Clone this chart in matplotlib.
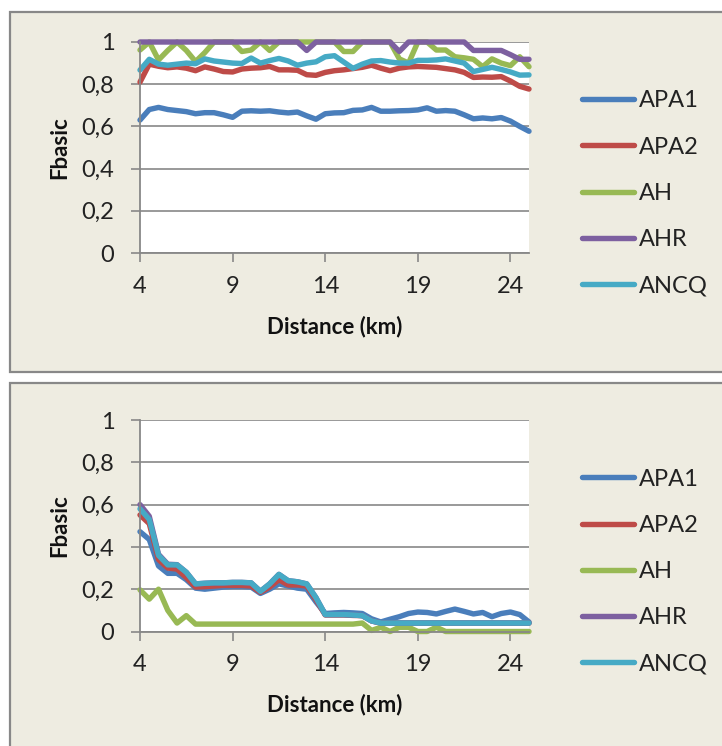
import numpy as np
import matplotlib
matplotlib.use("Agg")
import matplotlib.pyplot as plt
from matplotlib.patches import Rectangle

plt.rcParams['font.family'] = ['Lato', 'DejaVu Sans']

# ---------------- data ----------------
distance_km = [4, 4.5, 5, 5.5, 6, 6.5, 7, 7.5, 8, 8.5, 9, 9.5, 10, 10.5, 11, 11.5,
               12, 12.5, 13, 13.5, 14, 14.5, 15, 15.5, 16, 16.5, 17, 17.5, 18, 18.5,
               19, 19.5, 20, 20.5, 21, 21.5, 22, 22.5, 23, 23.5, 24, 24.5, 25]

series_names = ["APA1", "APA2", "AH", "AHR", "ANCQ"]

# top chart
top_apa1 = [0.63, 0.68, 0.69, 0.68, 0.675, 0.67, 0.66, 0.665, 0.665, 0.655, 0.643, 0.672,
            0.674, 0.672, 0.674, 0.668, 0.664, 0.668, 0.65, 0.634, 0.66, 0.664, 0.665,
            0.676, 0.678, 0.69, 0.672, 0.672, 0.674, 0.675, 0.678, 0.688, 0.672, 0.675,
            0.672, 0.655, 0.636, 0.64, 0.636, 0.642, 0.625, 0.60, 0.577]
top_apa2 = [0.81, 0.895, 0.885, 0.878, 0.882, 0.876, 0.864, 0.882, 0.872, 0.86, 0.858,
            0.872, 0.876, 0.878, 0.884, 0.868, 0.868, 0.866, 0.845, 0.842, 0.856, 0.864,
            0.868, 0.874, 0.88, 0.89, 0.876, 0.864, 0.876, 0.882, 0.884, 0.882, 0.88,
            0.874, 0.868, 0.856, 0.832, 0.834, 0.833, 0.836, 0.815, 0.79, 0.777]
top_ah = [0.962, 1.0, 0.915, 0.96, 1.0, 0.96, 0.907, 0.95, 1.0, 1.0, 1.0, 0.955, 0.962,
          1.0, 0.96, 1.0, 1.0, 1.0, 1.0, 1.0, 1.0, 1.0, 0.955, 0.955, 1.0, 1.0, 1.0,
          1.0, 0.92, 0.9, 1.0, 1.0, 0.962, 0.962, 0.93, 0.925, 0.918, 0.883, 0.92, 0.9,
          0.888, 0.93, 0.883]
top_ahr = [1.0, 1.0, 1.0, 1.0, 1.0, 1.0, 1.0, 1.0, 1.0, 1.0, 1.0, 1.0, 1.0, 1.0, 1.0,
           1.0, 1.0, 1.0, 0.96, 1.0, 1.0, 1.0, 1.0, 1.0, 1.0, 1.0, 1.0, 1.0, 0.955, 1.0,
           1.0, 1.0, 1.0, 1.0, 1.0, 1.0, 0.96, 0.96, 0.96, 0.96, 0.94, 0.918, 0.918]
top_ancq = [0.867, 0.918, 0.895, 0.89, 0.895, 0.90, 0.897, 0.92, 0.91, 0.905, 0.90,
            0.898, 0.924, 0.90, 0.912, 0.922, 0.91, 0.89, 0.90, 0.906, 0.93, 0.935,
            0.905, 0.875, 0.895, 0.91, 0.912, 0.905, 0.90, 0.90, 0.913, 0.913, 0.915,
            0.92, 0.91, 0.90, 0.86, 0.87, 0.88, 0.87, 0.858, 0.843, 0.844]

# bottom chart
bot_apa1 = [0.472, 0.435, 0.31, 0.275, 0.275, 0.245, 0.205, 0.20, 0.205, 0.21, 0.212,
            0.212, 0.21, 0.18, 0.20, 0.225, 0.215, 0.205, 0.20, 0.14, 0.085, 0.088, 0.09,
            0.088, 0.085, 0.06, 0.045, 0.058, 0.07, 0.085, 0.092, 0.09, 0.083, 0.095,
            0.106, 0.095, 0.083, 0.09, 0.07, 0.085, 0.092, 0.08, 0.045]
bot_apa2 = [0.551, 0.51, 0.34, 0.30, 0.295, 0.255, 0.21, 0.212, 0.215, 0.218, 0.218,
            0.218, 0.215, 0.185, 0.21, 0.245, 0.22, 0.22, 0.215, 0.15, 0.078, 0.078,
            0.078, 0.076, 0.075, 0.05, 0.04, 0.04, 0.04, 0.04, 0.04, 0.04, 0.04, 0.04,
            0.04, 0.04, 0.04, 0.04, 0.04, 0.04, 0.04, 0.04, 0.04]
bot_ah = [0.197, 0.153, 0.20, 0.10, 0.04, 0.075, 0.035, 0.035, 0.035, 0.035, 0.035,
          0.035, 0.035, 0.035, 0.035, 0.035, 0.035, 0.035, 0.035, 0.035, 0.035, 0.035,
          0.035, 0.035, 0.04, 0.005, 0.02, 0.0, 0.02, 0.02, 0.0, 0.0, 0.02, 0.0, 0.0,
          0.0, 0.0, 0.0, 0.0, 0.0, 0.0, 0.0, 0.0]
bot_ahr = [0.60, 0.545, 0.365, 0.318, 0.316, 0.28, 0.225, 0.228, 0.23, 0.23, 0.232,
           0.232, 0.23, 0.19, 0.225, 0.27, 0.24, 0.235, 0.225, 0.16, 0.08, 0.08, 0.08,
           0.078, 0.075, 0.05, 0.04, 0.04, 0.04, 0.04, 0.04, 0.04, 0.04, 0.04, 0.04,
           0.04, 0.04, 0.04, 0.04, 0.04, 0.04, 0.04, 0.04]
bot_ancq = [0.58, 0.53, 0.36, 0.315, 0.315, 0.28, 0.225, 0.228, 0.23, 0.23, 0.232,
            0.232, 0.23, 0.19, 0.225, 0.27, 0.24, 0.235, 0.225, 0.16, 0.08, 0.08, 0.08,
            0.078, 0.075, 0.05, 0.04, 0.04, 0.04, 0.04, 0.04, 0.04, 0.04, 0.04, 0.04,
            0.04, 0.04, 0.04, 0.04, 0.04, 0.04, 0.04, 0.04]

x_ticks = [4, 9, 14, 19, 24]
x_tick_labels = ["4", "9", "14", "19", "24"]
y_ticks = [0, 0.2, 0.4, 0.6, 0.8, 1.0]
y_tick_labels = ["0", "0,2", "0,4", "0,6", "0,8", "1"]
x_label = "Distance (km)"
y_label = "Fbasic"

colors = ["#4A7EBB", "#BE4B48", "#98B954", "#7D60A0", "#46AAC5"]

# ---------------- layout ----------------
W, H = 722, 746
fig = plt.figure(figsize=(W / 100, H / 100), dpi=100)
fig.patch.set_facecolor("white")

def fx(px):
    return px / W

def fy(py):
    return 1 - py / H

frame_bg = "#EEECE1"
frame_edge = "#888888"
for (y0, y1) in [(12, 372), (383, 770)]:
    r = Rectangle((fx(10), fy(y1)), fx(820) - fx(10), fy(y0) - fy(y1),
                  transform=fig.transFigure, facecolor=frame_bg, edgecolor=frame_edge,
                  linewidth=1.6, zorder=-5)
    fig.add_artist(r)

grid_col = "#888888"
LW = 3.9

def make_panel(ytop_px, ybot_px, data_list):
    ax = fig.add_axes([fx(140), fy(ybot_px), fx(529) - fx(140), fy(ytop_px) - fy(ybot_px)])
    ax.set_facecolor("white")
    for name, vals, c in zip(series_names, data_list, colors):
        ax.plot(distance_km, vals, color=c, lw=LW, label=name,
                solid_joinstyle="round", solid_capstyle="round", clip_on=False)
    ax.set_xlim(4, 25)
    ax.set_ylim(0, 1)
    ax.set_xticks(x_ticks)
    ax.set_xticklabels(x_tick_labels)
    ax.set_yticks(y_ticks)
    ax.set_yticklabels(y_tick_labels)
    ax.yaxis.grid(True, color=grid_col, lw=1.2)
    ax.set_axisbelow(True)
    for s in ["top", "right"]:
        ax.spines[s].set_visible(False)
    for s in ["left", "bottom"]:
        ax.spines[s].set_color(grid_col)
        ax.spines[s].set_linewidth(1.3)
    ax.tick_params(axis="both", direction="out", length=6.5, width=1.2, color=grid_col,
                   labelsize=17, labelcolor="#222222")
    ax.tick_params(axis="y", pad=12)
    ax.tick_params(axis="x", pad=10)
    ax.text((60 - 140) / 389, 0.5, y_label, transform=ax.transAxes, rotation=90,
            ha="center", va="center", fontsize=16, fontweight="bold", color="#111111")
    ax.text(0.5, -73.5 / (ybot_px - ytop_px), x_label,
            transform=ax.transAxes, ha="center", va="center", fontsize=16,
            fontweight="bold", color="#111111")
    leg = ax.legend(loc="center left", bbox_to_anchor=((582 - 140) / 389, 0.283),
                    frameon=False, fontsize=17, handlelength=2.2, handletextpad=0.2,
                    labelspacing=1.07, borderpad=0, borderaxespad=0)
    for line in leg.get_lines():
        line.set_linewidth(LW)
    for t in leg.get_texts():
        t.set_color("#222222")
    return ax

make_panel(42, 253, [top_apa1, top_apa2, top_ah, top_ahr, top_ancq])
make_panel(420, 631.5, [bot_apa1, bot_apa2, bot_ah, bot_ahr, bot_ancq])

fig.savefig("out.png", dpi=100)
